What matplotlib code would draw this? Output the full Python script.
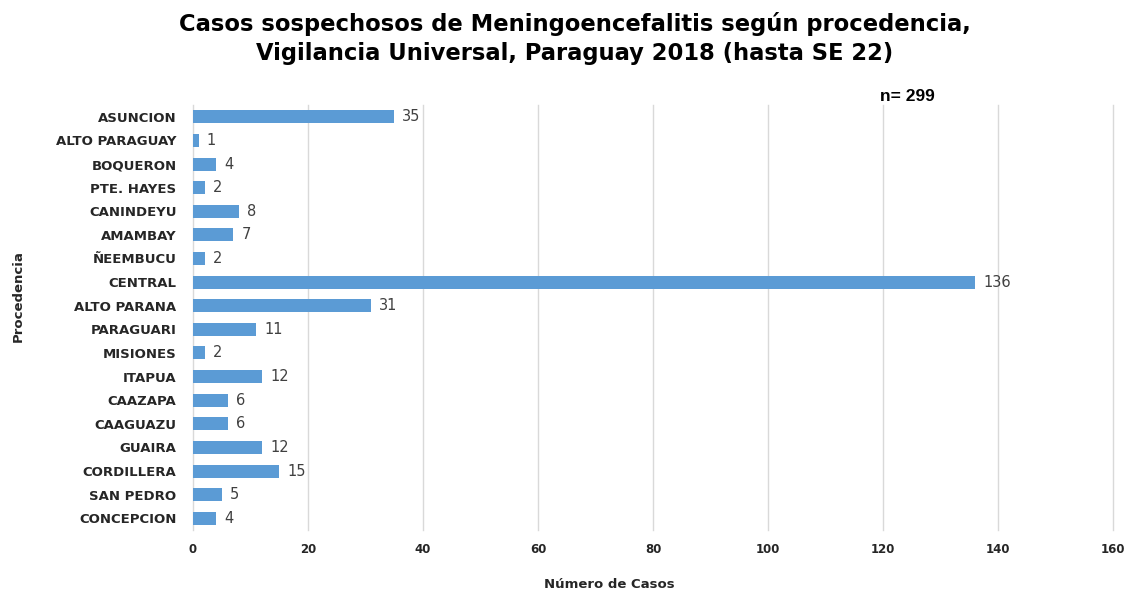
import matplotlib
matplotlib.use('Agg')
import matplotlib.pyplot as plt
import numpy as np

#======================================================================
#                          data
#======================================================================
departamentos = ['ASUNCION', 'ALTO PARAGUAY', 'BOQUERON', 'PTE. HAYES', 'CANINDEYU',
                 'AMAMBAY', 'ÑEEMBUCU', 'CENTRAL', 'ALTO PARANA', 'PARAGUARI',
                 'MISIONES', 'ITAPUA', 'CAAZAPA', 'CAAGUAZU', 'GUAIRA',
                 'CORDILLERA', 'SAN PEDRO', 'CONCEPCION']
casos = [35, 1, 4, 2, 8, 7, 2, 136, 31, 11, 2, 12, 6, 6, 12, 15, 5, 4]
xticks = [0, 20, 40, 60, 80, 100, 120, 140, 160]

#======================================================================
fig = plt.figure(figsize=(11.27, 5.93), dpi=100)
ax = fig.add_axes([0.1713, 0.106, 0.8163, 0.717])

ypos = np.arange(len(departamentos))
ax.barh(ypos, casos, height=0.55, color='#5B9BD5', zorder=3)

for y, v in zip(ypos, casos):
    ax.text(v + 1.4, y, str(v), va='center', ha='left', fontsize=10.5, color='#404040')

ax.set_ylim(len(departamentos) - 0.5, -0.5)
ax.set_xlim(0, 160)
ax.set_yticks(ypos)
ax.set_yticklabels(departamentos, fontsize=9.5, fontweight='bold', color='#262626')
ax.set_xticks(xticks)
ax.set_xticklabels([str(t) for t in xticks], fontsize=8.5, fontweight='bold', color='#262626')
ax.tick_params(axis='both', length=0)
ax.tick_params(axis='x', pad=9)
ax.tick_params(axis='y', pad=12)

ax.grid(axis='x', color='#D9D9D9', linewidth=1.0, zorder=0)
for gl in ax.get_xgridlines():
    gl.set_clip_on(False)
for s in ['left', 'right', 'top', 'bottom']:
    ax.spines[s].set_visible(False)

fig.text(0.541, 0.014, 'Número de Casos', ha='center', va='center',
         fontsize=9.5, fontweight='bold', color='#262626')
fig.text(0.016, 0.50, 'Procedencia', rotation=90, va='center', ha='center',
         fontsize=9.5, fontweight='bold', color='#262626')

fig.text(0.51, 0.935, 'Casos sospechosos de Meningoencefalitis según procedencia,\n'
         'Vigilancia Universal, Paraguay 2018 (hasta SE 22)',
         ha='center', va='center', fontsize=16.3, fontweight='bold', linespacing=1.3)
fig.text(0.781, 0.838, 'n= 299', ha='left', va='center', fontsize=12.5,
         fontweight='bold', family='Liberation Sans')

plt.savefig('out.png', dpi=100)
